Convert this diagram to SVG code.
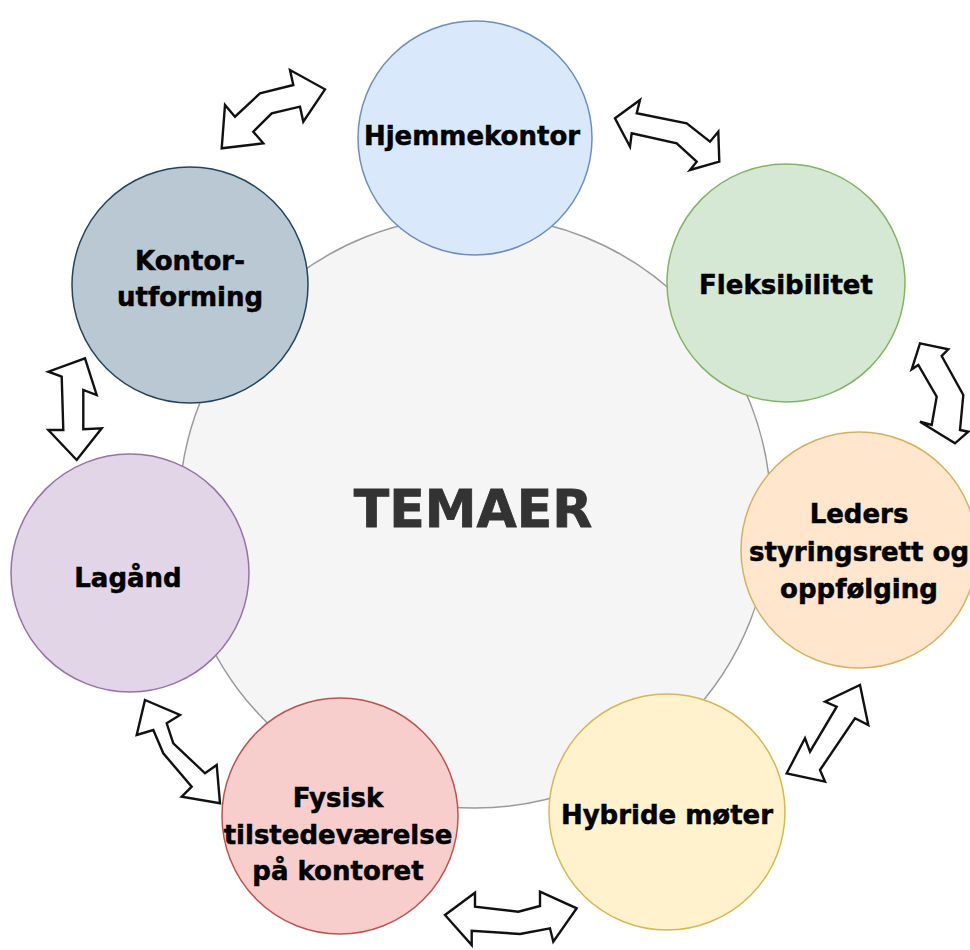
<svg xmlns="http://www.w3.org/2000/svg" width="970" height="950" viewBox="0 0 970 950">
<style>
.lbl{font-family:"DejaVu Sans","Verdana",sans-serif;font-weight:bold;font-size:26px;fill:#000;stroke:#000;stroke-width:0.5;text-anchor:middle}
.title{font-family:"DejaVu Sans","Verdana",sans-serif;font-weight:bold;font-size:52px;fill:#333;stroke:#333;stroke-width:0.8;text-anchor:middle}
.arr{fill:#fff;stroke:#111;stroke-width:2.4;stroke-linejoin:miter}
circle{stroke-width:1.5}
</style>
<rect width="970" height="950" fill="#fff"/>
<g id="temaer">
<circle cx="475" cy="512" r="296" fill="#f5f5f5" stroke="#9a9a9a"/>
<text class="title" x="473" y="527">TEMAER</text>
</g>
<g id="hjemmekontor">
<circle cx="475" cy="138" r="117" fill="#dae8fc" stroke="#6c8ebf"/>
<text class="lbl" x="472" y="145">Hjemmekontor</text>
</g>
<g id="fleksibilitet">
<circle cx="786" cy="283" r="119" fill="#d5e8d4" stroke="#82b366"/>
<text class="lbl" x="786" y="294">Fleksibilitet</text>
</g>
<g id="leders">
<circle cx="859" cy="550" r="118" fill="#ffe6cc" stroke="#d6b060"/>
<text class="lbl" x="859" y="523">Leders</text>
<text class="lbl" x="859" y="561">styringsrett og</text>
<text class="lbl" x="859" y="598">oppfølging</text>
</g>
<g id="hybride">
<circle cx="667" cy="812" r="118" fill="#fff2cc" stroke="#d6b656"/>
<text class="lbl" x="667" y="824">Hybride møter</text>
</g>
<g id="fysisk">
<circle cx="340" cy="816" r="118" fill="#f8cecc" stroke="#b85450"/>
<text class="lbl" x="338" y="807">Fysisk</text>
<text class="lbl" x="338" y="844">tilstedeværelse</text>
<text class="lbl" x="338" y="880">på kontoret</text>
</g>
<g id="lagand">
<circle cx="130" cy="573" r="119" fill="#e1d5e7" stroke="#9673a6"/>
<text class="lbl" x="128" y="587">Lagånd</text>
</g>
<g id="kontorutforming">
<circle cx="190" cy="285" r="118" fill="#bac8d3" stroke="#23445d"/>
<text class="lbl" x="190" y="270">Kontor-</text>
<text class="lbl" x="190" y="306">utforming</text>
</g>
<g id="connectors">
<polygon class="arr" points="325,89.3 303.3,121.7 300,106.7 271.7,113.3 253.3,131.7 263.3,143.3 221.7,148.3 225,105 235,116.7 260,93.3 293.3,85 290,70"/>
<polygon class="arr" points="615,118.3 640,100 636.7,113.3 686.7,123.3 710,141.7 718.3,131.7 719.3,161.7 690,170 696.7,161.7 676.7,143.3 631.7,133.3 630,146.7"/>
<polygon class="arr" points="920,343.3 948.3,349.3 941.7,356 963.3,395 960,430 968.3,431.7 955,443.3 920,421.7 931.7,425 936.7,396.7 918.3,365 911.7,369.3"/>
<polygon class="arr" points="860,685 868.3,725 855,718.3 820,770 825,781.7 786.7,773.3 805,738.3 810,751.7 836.7,706.7 825,701.7"/>
<polygon class="arr" points="445,915 475,892.7 475,906.7 518.3,911.7 540,906 540,891.7 576.7,908.3 553.3,941.7 550,928.3 520,934 471.7,930.7 471.7,945"/>
<polygon class="arr" points="145,700 180,715 166.7,723.3 173.3,743.3 205,773.3 216.7,765 220,803.3 181.7,796.7 191.7,786.7 163.3,753.3 153.3,730 136.7,735"/>
<polygon class="arr" points="85,358.3 96.7,395 83.3,390 83.3,429.3 101.7,428.3 76.7,460 48.3,430 63.3,430 61.7,376.7 48.3,371.7"/>
</g>
</svg>
